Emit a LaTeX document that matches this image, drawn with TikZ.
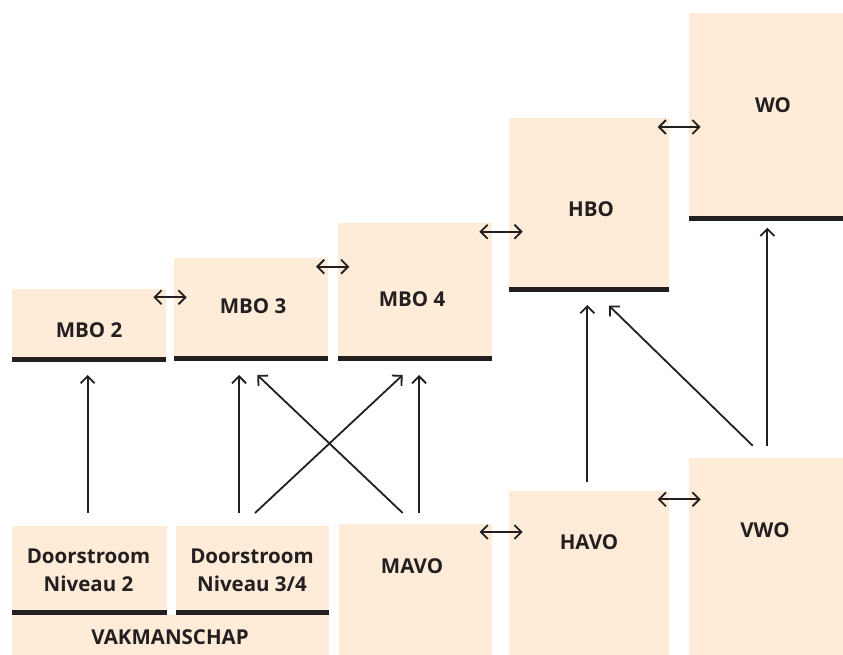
\documentclass[tikz,border=0pt]{standalone}
\usepackage{fontspec}
\setmainfont{Open Sans}
\usetikzlibrary{arrows.meta}
\definecolor{peach}{RGB}{254,236,217}
\definecolor{ink}{RGB}{35,31,32}
\begin{document}
\begin{tikzpicture}[x=1pt,y=-1pt,
  box/.style={fill=peach,draw=none,inner sep=0pt,outer sep=0pt,anchor=north west},
  bar/.style={fill=ink,draw=none},
  lbl/.style={font=\fontsize{20.5}{28}\selectfont\bfseries,text=ink,inner sep=0pt,align=center},
  arr/.style={draw=ink,line width=1.8pt,-{Straight Barb[length=7pt,width=14pt]}},
  darr/.style={draw=ink,line width=1.8pt,{Straight Barb[length=7pt,width=14pt]}-{Straight Barb[length=7pt,width=14pt]}}]
\useasboundingbox (0,0) rectangle (843,655);
% boxes
\node[box,minimum width=153.7pt,minimum height=72.5pt] (mbo2) at (12,289) {};
\node[box,minimum width=153.7pt,minimum height=102.7pt] (mbo3) at (174.3,258) {};
\node[box,minimum width=154pt,minimum height=137.5pt] (mbo4) at (338,223.2) {};
\node[box,minimum width=160pt,minimum height=174pt] (hbo) at (509,118) {};
\node[box,minimum width=154pt,minimum height=207.4pt] (wo) at (689,13.3) {};
\node[box,minimum width=154.7pt,minimum height=89pt] (d2) at (12,526) {};
\node[box,minimum width=153pt,minimum height=89pt] (d34) at (176.3,526) {};
\node[box,minimum width=317.3pt,minimum height=40pt] (vak) at (12,615) {};
\node[box,minimum width=153pt,minimum height=131pt] (mavo) at (339,524) {};
\node[box,minimum width=160pt,minimum height=164pt] (havo) at (509,491) {};
\node[box,minimum width=154pt,minimum height=197.3pt] (vwo) at (689,457.7) {};
% bars
\foreach \b in {mbo2,mbo3,mbo4,hbo,wo,d2,d34}
  \fill[bar] (\b.south west) rectangle ([yshift=4.7pt]\b.south east);
% labels
\node[lbl] (mbo2t) at (89,330) {MBO 2};
\node[lbl] (mbo3t) at (253,306) {MBO 3};
\node[lbl] (mbo4t) at (412,299) {MBO 4};
\node[lbl] (hbot) at (591,209) {HBO};
\node[lbl] (wot) at (773,105) {WO};
\node[lbl] (d2t) at (88.5,570) {Doorstroom\\Niveau 2};
\node[lbl] (d34t) at (252,570) {Doorstroom\\Niveau 3/4};
\node[lbl] (vakt) at (170,637) {VAKMANSCHAP};
\node[lbl] (mavot) at (412,566) {MAVO};
\node[lbl] (havot) at (589,542) {HAVO};
\node[lbl] (vwot) at (765,530) {VWO};
% connector end points
\coordinate (p1a) at (153.3,297.3); \coordinate (p1b) at (186.7,297.3);
\coordinate (p2a) at (316,266.7);   \coordinate (p2b) at (349.3,266.7);
\coordinate (p3a) at (479.3,231.7); \coordinate (p3b) at (522.7,231.7);
\coordinate (p4a) at (657.7,127);   \coordinate (p4b) at (700.7,127);
\coordinate (p5a) at (479.5,532);   \coordinate (p5b) at (522.7,532);
\coordinate (p6a) at (657.7,499.3); \coordinate (p6b) at (700.7,499.3);
\coordinate (d2o) at (87.7,513);   \coordinate (mbo2i) at (87.7,375);
\coordinate (d34o) at (239,513);   \coordinate (mbo3i) at (239,375);
\coordinate (d34x) at (255,513);   \coordinate (mbo4x) at (402.7,375);
\coordinate (mavox) at (402.7,513);\coordinate (mbo3x) at (257.3,375);
\coordinate (mavoo) at (419,513);  \coordinate (mbo4i) at (419,375);
\coordinate (havoo) at (587.3,481.7); \coordinate (hboi) at (587.3,305);
\coordinate (vwox) at (752.7,445.7);  \coordinate (hbox) at (609,305.7);
\coordinate (vwoo) at (767.3,445.7);  \coordinate (woi) at (767.3,227.7);
% connectors
\draw[darr] (p1a) -- (p1b);
\draw[darr] (p2a) -- (p2b);
\draw[darr] (p3a) -- (p3b);
\draw[darr] (p4a) -- (p4b);
\draw[darr] (p5a) -- (p5b);
\draw[darr] (p6a) -- (p6b);
\draw[arr] (d2o) -- (mbo2i);
\draw[arr] (d34o) -- (mbo3i);
\draw[arr] (d34x) -- (mbo4x);
\draw[arr] (mavox) -- (mbo3x);
\draw[arr] (mavoo) -- (mbo4i);
\draw[arr] (havoo) -- (hboi);
\draw[arr] (vwox) -- (hbox);
\draw[arr] (vwoo) -- (woi);
\end{tikzpicture}
\end{document}
